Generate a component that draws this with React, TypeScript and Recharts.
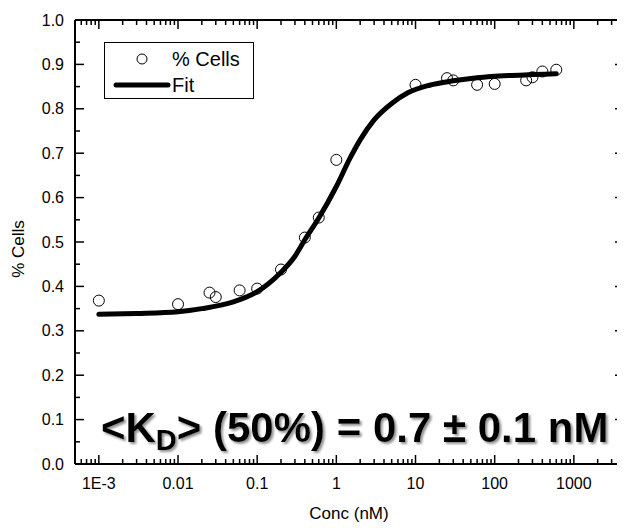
import React from 'react';
import { ComposedChart, Line, Scatter, XAxis, YAxis } from 'recharts';

// measured points (% Cells vs Conc in nM)
const concValues = [0.001, 0.01, 0.025, 0.03, 0.06, 0.1, 0.2, 0.4, 0.6, 1, 10, 25, 30, 60, 100, 250, 300, 400, 600];
const cellValues = [0.368, 0.36, 0.386, 0.376, 0.391, 0.395, 0.438, 0.51, 0.555, 0.685, 0.854, 0.869, 0.864, 0.854, 0.856, 0.864, 0.871, 0.884, 0.888];

// fit curve
const fitConc = [0.001, 0.003, 0.01, 0.02, 0.05, 0.1, 0.2, 0.3, 0.4, 0.6, 1, 1.5, 2, 3, 5, 8, 15, 30, 60, 150, 300, 600];
const fitCells = [0.337, 0.339, 0.343, 0.35, 0.365, 0.388, 0.432, 0.468, 0.505, 0.554, 0.625, 0.69, 0.73, 0.775, 0.812, 0.836, 0.853, 0.863, 0.87, 0.875, 0.877, 0.879];

const majorX = [0.001, 0.01, 0.1, 1, 10, 100, 1000];
const xLabels = ['1E-3', '0.01', '0.1', '1', '10', '100', '1000'];
const minorSteps = [2, 3, 4, 5, 6, 7, 8, 9];
const majorY = [0, 0.1, 0.2, 0.3, 0.4, 0.5, 0.6, 0.7, 0.8, 0.9, 1.0];
const minorY = [0.05, 0.15, 0.25, 0.35, 0.45, 0.55, 0.65, 0.75, 0.85, 0.95];

const X_DOMAIN: [number, number] = [0.0005, 4300];

const points = concValues.map((x, i) => ({ x, y: cellValues[i] }));
const fit = fitConc.map((x, i) => ({ x, y: fitCells[i] }));

const xTicks = [0.0006, 0.0007, 0.0008, 0.0009];
majorX.forEach((d) => {
  xTicks.push(d);
  minorSteps.forEach((m) => {
    const v = Number((d * m).toPrecision(3));
    if (v < X_DOMAIN[1]) xTicks.push(v);
  });
});
const yTicks = [...majorY, ...minorY].sort((a, b) => a - b);

const FONT = 'Arial, "Liberation Sans", sans-serif';

const isMajorX = (v: number) => majorX.indexOf(v) >= 0;
const isMajorY = (v: number) => majorY.some((m) => Math.abs(m - v) < 1e-9);

const BottomTick = ({ x, y, payload }: any) => {
  const v = payload.value;
  const major = isMajorX(v);
  return (
    <g>
      <line x1={x} y1={y} x2={x} y2={y - (major ? 9 : 5)} stroke="#000" strokeWidth={1.5} />
      {major && (
        <text x={x} y={y + 25} textAnchor="middle" fontSize={16} fontFamily={FONT} fill="#000">
          {xLabels[majorX.indexOf(v)]}
        </text>
      )}
    </g>
  );
};

const TopTick = ({ x, y, payload }: any) => {
  const major = isMajorX(payload.value);
  return <line x1={x} y1={y} x2={x} y2={y + (major ? 9 : 5)} stroke="#000" strokeWidth={1.5} />;
};

const LeftTick = ({ x, y, payload }: any) => {
  const v = payload.value;
  const major = isMajorY(v);
  return (
    <g>
      <line x1={x} y1={y} x2={x + (major ? 9 : 5)} y2={y} stroke="#000" strokeWidth={1.5} />
      {major && (
        <text x={x - 11} y={y + 5.5} textAnchor="end" fontSize={16} fontFamily={FONT} fill="#000">
          {v.toFixed(1)}
        </text>
      )}
    </g>
  );
};

const RightTick = ({ x, y, payload }: any) => {
  const major = isMajorY(payload.value);
  return <line x1={x} y1={y} x2={x - (major ? 9 : 5)} y2={y} stroke="#000" strokeWidth={1.5} />;
};

const OpenCircle = ({ cx, cy }: any) => (
  <circle cx={cx} cy={cy} r={5.5} fill="none" stroke="#000" strokeWidth={1} />
);

const frame = { stroke: '#000', strokeWidth: 2 };

export default function App() {
  return (
    <div style={{ position: 'relative', width: 625, height: 528, margin: '-8px 0 0 -8px', fontFamily: FONT }}>
      <ComposedChart width={625} height={528} margin={{ top: 19, right: 0, bottom: 63, left: 74 }}>
        <XAxis
          dataKey="x"
          type="number"
          scale="log"
          domain={X_DOMAIN}
          allowDataOverflow
          ticks={xTicks}
          interval={0}
          tick={BottomTick}
          tickLine={false}
          tickSize={0}
          tickMargin={0}
          height={1}
          axisLine={frame}
        />
        <XAxis
          xAxisId="top"
          orientation="top"
          dataKey="x"
          type="number"
          scale="log"
          domain={X_DOMAIN}
          allowDataOverflow
          ticks={xTicks}
          interval={0}
          tick={TopTick}
          tickLine={false}
          tickSize={0}
          tickMargin={0}
          height={1}
          axisLine={frame}
        />
        <YAxis
          dataKey="y"
          type="number"
          domain={[0, 1]}
          allowDataOverflow
          ticks={yTicks}
          interval={0}
          tick={LeftTick}
          tickLine={false}
          tickSize={0}
          tickMargin={0}
          width={1}
          axisLine={frame}
        />
        <YAxis
          yAxisId="right"
          orientation="right"
          type="number"
          domain={[0, 1]}
          allowDataOverflow
          ticks={yTicks}
          interval={0}
          tick={RightTick}
          tickLine={false}
          tickSize={0}
          tickMargin={0}
          width={1}
          axisLine={frame}
        />
        <Line
          data={fit}
          dataKey="y"
          type="monotone"
          stroke="#000"
          strokeWidth={5}
          strokeLinecap="round"
          dot={false}
          isAnimationActive={false}
        />
        <Scatter data={points} dataKey="y" shape={OpenCircle} isAnimationActive={false} />
      </ComposedChart>

      {/* legend */}
      <div
        style={{
          position: 'absolute',
          left: 104,
          top: 42,
          width: 148,
          height: 55,
          border: '1px solid #000',
          background: '#fff',
        }}
      >
        <svg width={148} height={55} style={{ position: 'absolute', left: 0, top: 0 }}>
          <circle cx={37} cy={16} r={5} fill="none" stroke="#000" strokeWidth={1} />
          <line x1={11} y1={42} x2={63} y2={42} stroke="#000" strokeWidth={5} strokeLinecap="round" />
          <text x={67} y={23} fontSize={20} fontFamily={FONT} fill="#000">% Cells</text>
          <text x={67} y={49} fontSize={20} fontFamily={FONT} fill="#000">Fit</text>
        </svg>
      </div>

      {/* axis titles and annotation */}
      <svg width={625} height={528} style={{ position: 'absolute', left: 0, top: 0, pointerEvents: 'none' }}>
        <defs>
          <filter id="kdShadow" x="-5%" y="-20%" width="110%" height="150%">
            <feDropShadow dx={2} dy={2} stdDeviation={1} floodColor="#777" floodOpacity={0.8} />
          </filter>
        </defs>
        <text x={349} y={519} textAnchor="middle" fontSize={17} fontFamily={FONT} fill="#000">Conc (nM)</text>
        <text
          x={0}
          y={0}
          transform="translate(24,249) rotate(-90)"
          textAnchor="middle"
          fontSize={17}
          fontFamily={FONT}
          fill="#000"
        >
          % Cells
        </text>
        <text
          x={101}
          y={442}
          fontSize={42}
          fontWeight="bold"
          fontFamily={FONT}
          fill="#000"
          filter="url(#kdShadow)"
        >
          {'<K'}
          <tspan fontSize={29} dy={8}>D</tspan>
          <tspan dy={-8}>{'> (50%) = 0.7 ± 0.1 nM'}</tspan>
        </text>
      </svg>
    </div>
  );
}
